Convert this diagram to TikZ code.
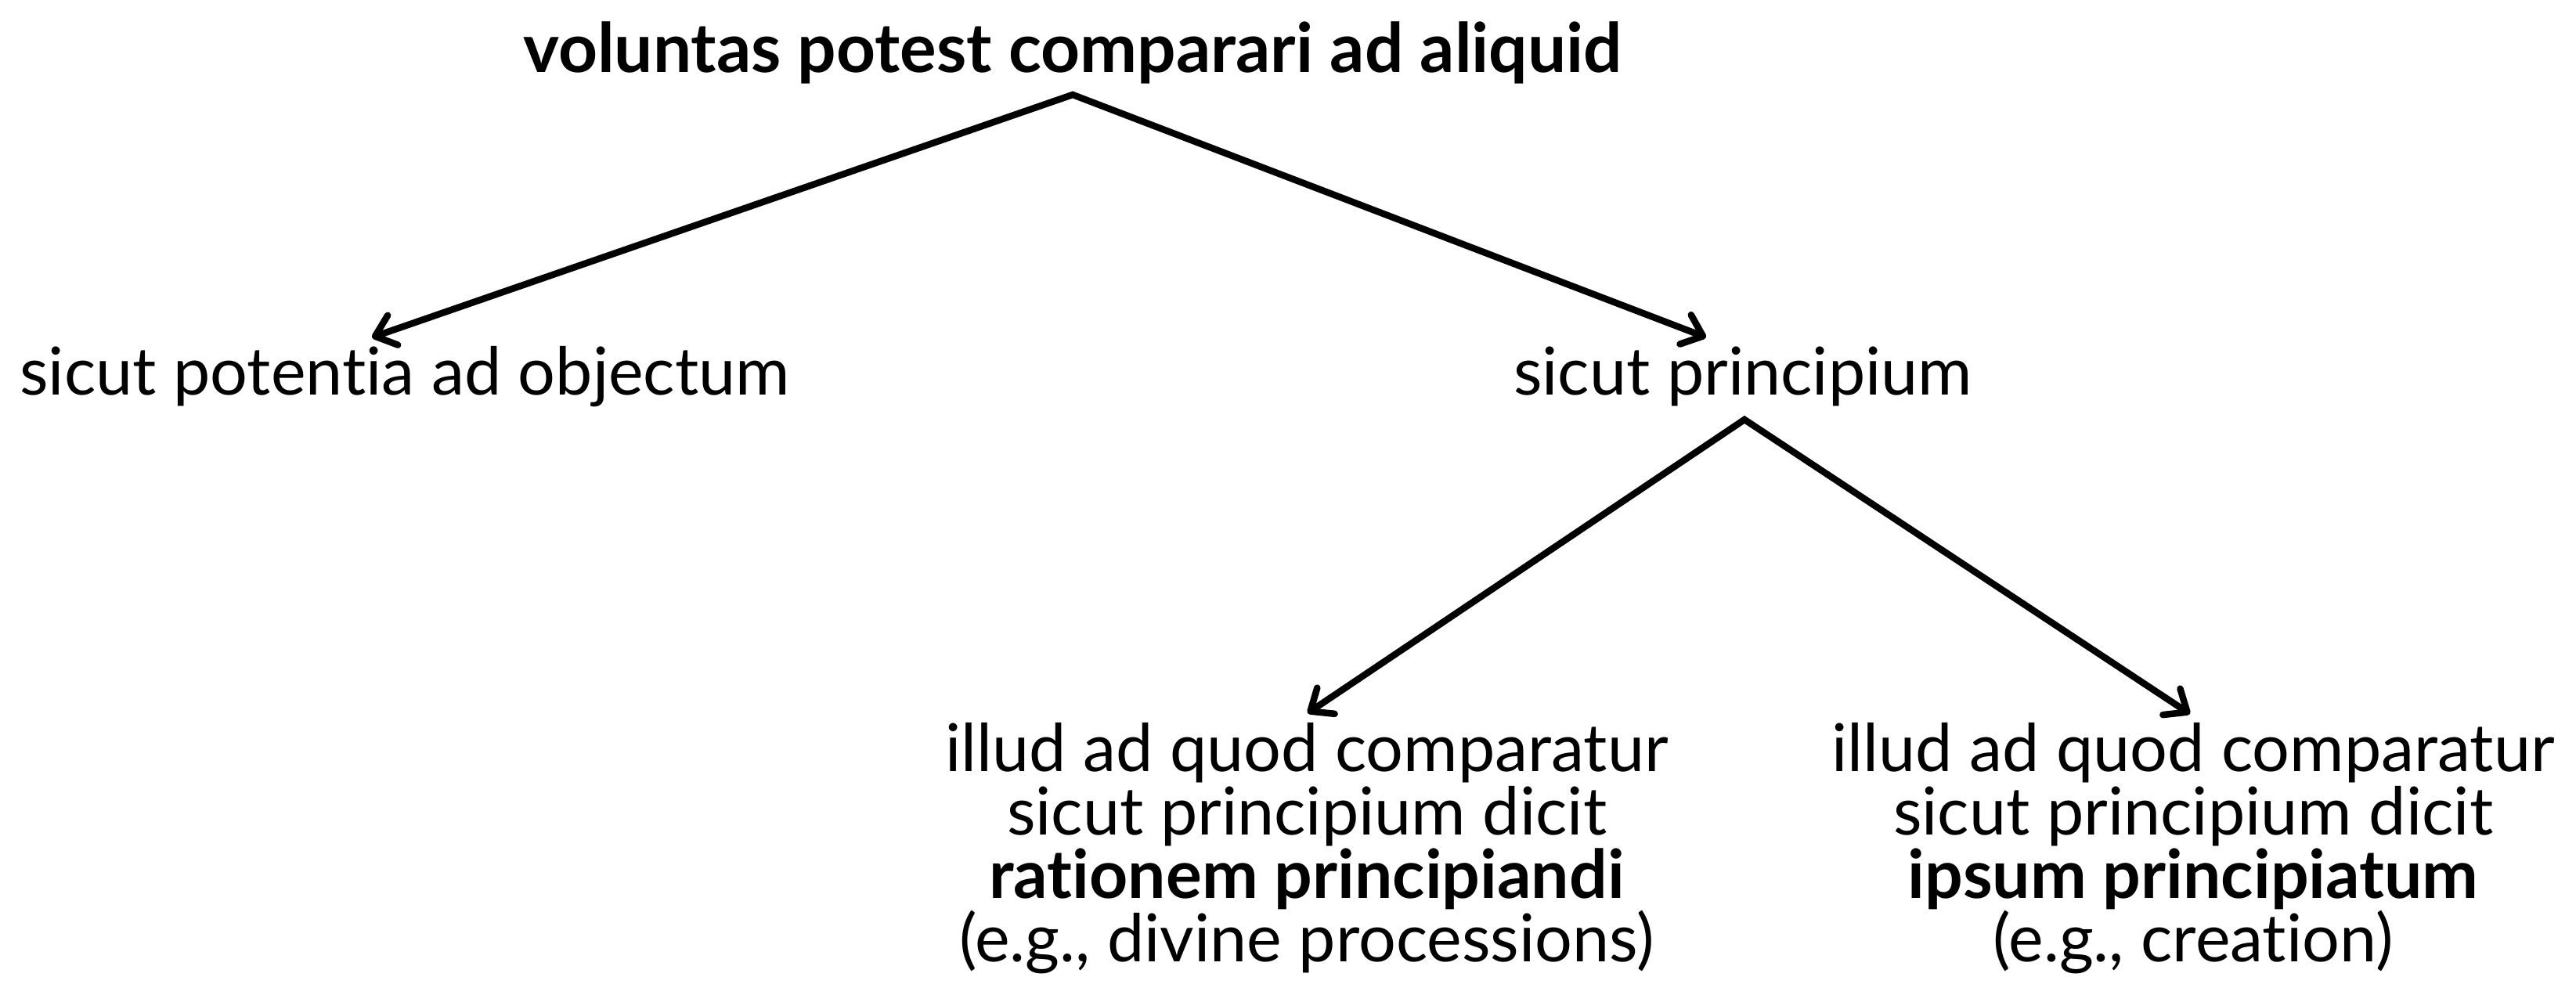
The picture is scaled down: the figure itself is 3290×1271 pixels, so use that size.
\documentclass[tikz,border=0pt]{standalone}
\usepackage{fontspec}
\setmainfont{Lato}[Ligatures={NoCommon}]
\usetikzlibrary{arrows.meta}
\newcommand{\bldline}[1]{{\fontsize{24.4pt}{23.1pt}\selectfont\bfseries #1}}
\tikzset{
  lbl/.style={inner sep=0pt, outer sep=0pt, anchor=base, align=center,
    font=\fontsize{24pt}{23.1pt}\selectfont},
  conn/.style={line width=0.085cm, line join=miter, line cap=round,
    arrows={Straight Barb[length=0.24cm, width=0.40cm, line cap=round, line join=round]-Straight Barb[length=0.24cm, width=0.40cm, line cap=round, line join=round]}}
}
\begin{document}
\begin{tikzpicture}[x=0.01cm, y=-0.01cm]
\useasboundingbox (0,0) rectangle (3290,1271);
% text nodes
\node[lbl, font=\fontsize{24.8pt}{23.1pt}\selectfont\bfseries] (top) at (1370,93) {voluntas potest comparari ad aliquid};
\node[lbl] (obj) at (517,505) {sicut potentia ad objectum};
\node[lbl] (princ) at (2226,505) {sicut principium};
\node[lbl] (ratio) at (1669,1229) {illud ad quod comparatur\\sicut principium dicit\\\bldline{rationem principiandi}\\(e.g., divine processions)};
\node[lbl] (ipsum) at (2801,1229) {illud ad quod comparatur\\sicut principium dicit\\\bldline{ipsum principiatum}\\(e.g., creation)};
% connector points
\coordinate (apexA) at (1370,121);
\coordinate (tipA1) at (475,431);
\coordinate (tipA2) at (2179,431);
\coordinate (apexB) at (2228,536);
\coordinate (tipB1) at (1670,911);
\coordinate (tipB2) at (2797,912);
\draw[conn] (tipA1) -- (apexA) -- (tipA2);
\draw[conn] (tipB1) -- (apexB) -- (tipB2);
\end{tikzpicture}
\end{document}
